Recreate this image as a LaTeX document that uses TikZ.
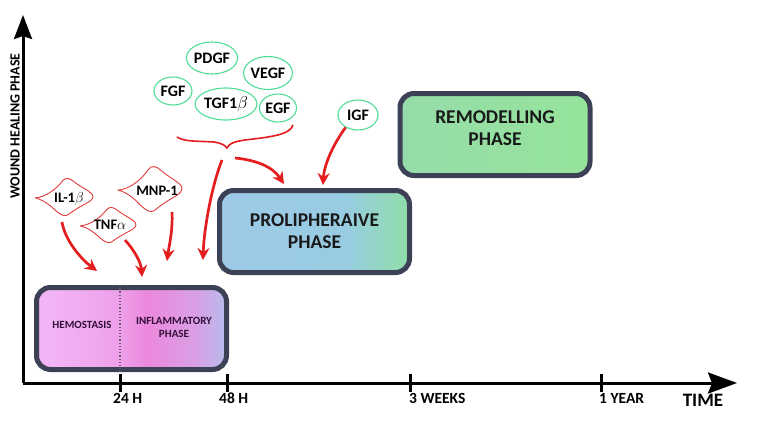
\documentclass[tikz,border=0pt]{standalone}
\usepackage{fontspec}
\setmainfont{Carlito}
\usetikzlibrary{arrows.meta,shapes.geometric}
\definecolor{frame}{RGB}{60,65,85}
\definecolor{gfgreen}{RGB}{80,220,150}
\definecolor{arrred}{RGB}{228,30,30}
\definecolor{cellred}{RGB}{225,60,60}
\definecolor{hemotxt}{RGB}{50,15,55}
\definecolor{hemoA}{RGB}{242,180,246}
\definecolor{hemoM}{RGB}{238,160,234}
\definecolor{hemoB}{RGB}{236,136,220}
\definecolor{hemoD}{RGB}{216,160,228}
\definecolor{hemoC}{RGB}{184,188,236}
\definecolor{prolA}{RGB}{158,202,232}
\definecolor{prolB}{RGB}{152,204,226}
\definecolor{prolC}{RGB}{144,222,168}
\pgfdeclarehorizontalshading{hemoshade}{100bp}{color(0bp)=(hemoA); color(29bp)=(hemoA); color(47bp)=(hemoM); color(54bp)=(hemoB); color(67bp)=(hemoD); color(75bp)=(hemoC); color(100bp)=(hemoC)}
\pgfdeclarehorizontalshading{prolshade}{100bp}{color(0bp)=(prolA); color(25bp)=(prolA); color(58bp)=(prolB); color(75bp)=(prolC); color(100bp)=(prolC)}
\begin{document}
\begin{tikzpicture}[x=1pt,y=-1pt,
    axis/.style={line width=3pt,black},
    phasebox/.style={draw=frame,line width=5pt,rounded corners=14pt,minimum width=190pt,minimum height=82pt,align=center,text=black!90,font=\bfseries\fontsize{19.5}{22}\selectfont},
    gf/.style={ellipse,draw=gfgreen,line width=1.1pt,fill=white,inner sep=0pt,font=\bfseries\fontsize{16}{16}\selectfont},
    ck/.style={font=\bfseries\fontsize{14.5}{14.5}\selectfont,inner sep=1pt},
    ticklab/.style={anchor=north west,inner sep=1pt,font=\bfseries\fontsize{15.5}{15.5}\selectfont},
    redarr/.style={arrred,line width=2.7pt,-{Stealth[length=12pt,width=12pt,inset=4pt]}},
    cyto/.pic={\draw[cellred,line width=0.9pt,fill=white] (-1,0.05) .. controls (-0.6,0) and (-0.25,-0.45) .. (-0.05,-0.85) .. controls (0.05,-1.05) and (0.2,-1.0) .. (0.35,-0.8) .. controls (0.55,-0.55) and (0.85,-0.35) .. (0.97,-0.15) .. controls (1.05,0.05) and (0.95,0.2) .. (0.75,0.35) .. controls (0.5,0.55) and (0.3,0.75) .. (0.12,0.95) .. controls (0,1.05) and (-0.15,0.9) .. (-0.3,0.7) .. controls (-0.5,0.4) and (-0.75,0.12) .. cycle;}]
  \useasboundingbox (0,0) rectangle (763,421);
  % axes
  \coordinate (o) at (23,383);
  \draw[axis,-{Stealth[length=24pt,width=18pt,inset=3pt]}] (o) -- (23,15);
  \draw[axis,-{Stealth[length=29pt,width=21pt,inset=4pt]}] (o) -- (737,383);
  \foreach \x/\n/\d/\t in {120/t24/8/24 H,227/t48/9/48 H,410/t3w/2/3 WEEKS,601/t1y/3/1 YEAR}{
    \coordinate (\n) at (\x,383);
    \draw[axis] (\n) ++(0,-9) -- ++(0,18);
    \node[ticklab] (l\n) at (\x-\d,392) {\t};
  }
  \node[font=\bfseries\fontsize{19}{19}\selectfont] (time) at (703,400) {TIME};
  \node[rotate=90,font=\bfseries\fontsize{14}{14}\selectfont] (ylab) at (15,126) {WOUND HEALING PHASE};

  % phases
  \node[phasebox,shading=hemoshade] (hemo) at (131.5,328.5) {};
  \draw[hemotxt!70,line width=1.2pt,dotted] (hemo.north -| t24) -- (hemo.south -| t24);
  \node[text=hemotxt,font=\bfseries\fontsize{11}{13}\selectfont] (hemotext) at (82,325) {HEMOSTASIS};
  \node[text=hemotxt,align=center,font=\bfseries\fontsize{11}{13}\selectfont] (infl) at (174,327) {INFLAMMATORY\\PHASE};
  \node[phasebox,shading=prolshade] (prol) at (314.5,231.5) {PROLIPHERAIVE\\PHASE};
  \node[phasebox,text depth=13pt,left color={rgb,255:red,150;green,220;blue,170},right color={rgb,255:red,150;green,228;blue,155}] (remo) at (495,134.5) {REMODELLING\\PHASE};

  % growth factors
  \node[gf,minimum width=46pt,minimum height=32pt] (pdgf) at (212,58) {PDGF};
  \node[gf,minimum width=43pt,minimum height=33pt] (vegf) at (268,73) {VEGF};
  \node[gf,minimum width=38pt,minimum height=28pt] (fgf) at (173,91) {FGF};
  \node[gf,minimum width=54pt,minimum height=32pt] (tgf) at (226,104) {TGF1$\beta$};
  \node[gf,minimum width=37pt,minimum height=28pt] (egf) at (278,108) {EGF};
  \node[gf,minimum width=40pt,minimum height=30pt] (igf) at (358,115) {IGF};

  % cytokines
  \pic[xscale=29,yscale=19] at (64,197) {cyto};
  \pic[xscale=32,yscale=23] at (150,189) {cyto};
  \pic[xscale=28,yscale=18] at (108,225) {cyto};
  \node[ck] (il1b) at (69,199) {IL-1$\beta$};
  \node[ck] (mnp1) at (157,191) {MNP-1};
  \node[ck] (tnfa) at (110,225) {TNF$\alpha$};

  % brace
  \coordinate (bt) at (227,148);
  \draw[arrred,line width=1.6pt] (177,137) .. controls (184,142) and (200,141) .. (214,142) .. controls (221,143) and (225,145) .. (bt) .. controls (229,144) and (232,142) .. (245,140) .. controls (270,137) and (290,135) .. (293,125);

  % arrows
  \coordinate (h1) at (97,271);
  \coordinate (h2) at (142,277);
  \coordinate (h3) at (167,261);
  \coordinate (h4) at (203,260);
  \coordinate (p1) at (284,184);
  \coordinate (p2) at (323,185);
  \draw[redarr] (il1b) ++(-7,23) .. controls (65,240) and (80,258) .. (h1);
  \draw[redarr] (tnfa) ++(15,15) .. controls (134,250) and (141,262) .. (h2);
  \draw[redarr] (mnp1) ++(15,21) .. controls (173,230) and (169,246) .. (h3);
  \draw[redarr] (bt) ++(-5,12) .. controls (212,185) and (204,228) .. (h4);
  \draw[redarr] (bt) ++(8,10) .. controls (255,160) and (272,166) .. (p1);
  \draw[redarr] (igf.225) .. controls (332,146) and (324,166) .. (p2);
\end{tikzpicture}
\end{document}
